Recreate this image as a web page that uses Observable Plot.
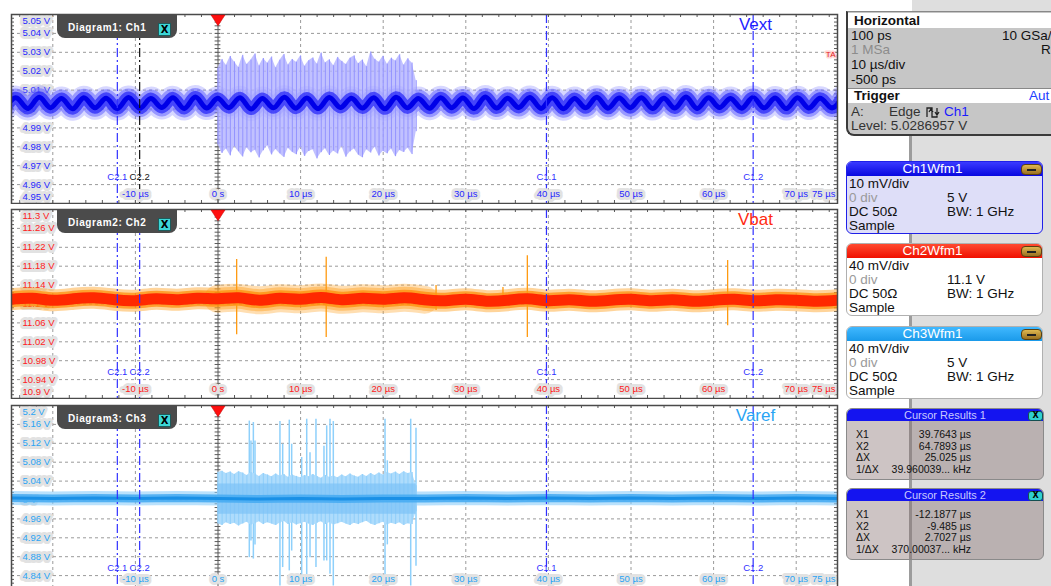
<!DOCTYPE html>
<html><head><meta charset="utf-8">
<script src="https://cdn.jsdelivr.net/npm/d3@7"></script>
<script src="https://cdn.jsdelivr.net/npm/@observablehq/plot@0.6"></script>
<style>
html,body{margin:0;padding:0}
body{width:1051px;height:586px;overflow:hidden;position:relative;background:#fff;font-family:"Liberation Sans",Arial,sans-serif;}
.panel{position:absolute;left:0}
.tab{position:absolute;left:57px;width:120px;height:24px;background:#4b4b4b;border-radius:0 0 8px 8px;color:#fff;font:bold 10px "Liberation Sans";letter-spacing:0.6px;z-index:5}
.tab span{position:absolute;left:11px;top:8px}
.xbtn{position:absolute;left:101px;top:9px;width:11px;height:11px;background:#3cd6d6;border:1px solid #1c5c5c;color:#000;font:bold 10px "DejaVu Sans";line-height:11px;text-align:center;letter-spacing:0}
.abs{position:absolute;white-space:nowrap}
.hbox{position:absolute;left:846px;top:11px;width:215px;height:122px;background:#c6c6c6;border-left:2px solid #3a3a3a;border-bottom:2px solid #3a3a3a;border-top:1px solid #888;border-bottom-left-radius:8px;font-size:13.5px;color:#111;z-index:3}
.wbox{position:absolute;left:846px;width:195px;height:71px;border-radius:6px;font-size:13.5px;color:#111;overflow:hidden;z-index:3}
.whdr{position:absolute;left:0;top:0;width:195px;height:14px;line-height:14px;text-align:center;color:#fff;font-size:13.5px}
.minus{position:absolute;left:174px;top:2px;width:19px;height:9px;border-radius:4px;background:linear-gradient(#e0b850,#9a7020);border:1px solid #5a4010}
.minus:after{content:"";position:absolute;left:5px;top:4px;width:9px;height:1.5px;background:#222}
.cbox{position:absolute;left:846px;width:196px;height:70px;border-radius:6px;border:1px solid #8a8a8a;background:rgba(135,115,115,0.42);font-size:10.5px;color:#111;overflow:hidden;z-index:3}
.chdr{position:absolute;left:0;top:0;width:100%;height:12px;line-height:12px;background:#1414f0;color:#c8c8ff;text-align:center;font-size:11px;border-radius:5px 5px 0 0}
.cx{position:absolute;left:181px;top:2px;width:13px;height:8px;border-radius:3px;background:#30d0d0;border:1px solid #145050;font:bold 8px "DejaVu Sans";line-height:8px;text-align:center;color:#000}
</style></head><body>
<div class="abs" style="left:912px;top:0;width:139px;height:586px;background:#dedede"></div>
<div class="abs" style="left:909px;top:134px;width:3px;height:452px;background:#9c9c9c;z-index:2"></div>

<div id="p1" class="panel" style="top:12.5px"></div>
<div id="p2" class="panel" style="top:208px"></div>
<div id="p3" class="panel" style="top:404px"></div>

<div class="tab" style="top:14px"><span>Diagram1: Ch1</span><div class="xbtn">X</div></div>
<div class="tab" style="top:209px"><span>Diagram2: Ch2</span><div class="xbtn">X</div></div>
<div class="tab" style="top:405px"><span>Diagram3: Ch3</span><div class="xbtn">X</div></div>

<div class="hbox">
  <div class="abs" style="left:0;top:1px;width:215px;height:15px;background:#fff"></div>
  <div class="abs" style="left:6px;top:1px;line-height:15px;font-weight:bold">Horizontal</div>
  <div class="abs" style="left:3px;top:17px;line-height:14px">100 ps</div>
  <div class="abs" style="left:154px;top:17px;line-height:14px">10 GSa/</div>
  <div class="abs" style="left:3px;top:31px;line-height:14px;color:#8c8c8c">1 MSa</div>
  <div class="abs" style="left:193px;top:31px;line-height:14px">R</div>
  <div class="abs" style="left:3px;top:46px;line-height:14px">10 µs/div</div>
  <div class="abs" style="left:3px;top:61px;line-height:14px">-500 ps</div>
  <div class="abs" style="left:0;top:76px;width:215px;height:1px;background:#888"></div>
  <div class="abs" style="left:0;top:77px;width:215px;height:14px;background:#fff"></div>
  <div class="abs" style="left:6px;top:77px;line-height:14px;font-weight:bold">Trigger</div>
  <div class="abs" style="left:181px;top:77px;line-height:14px;color:#2040ff">Aut</div>
  <div class="abs" style="left:3px;top:93px;line-height:14px;color:#333">A:</div>
  <div class="abs" style="left:41px;top:93px;line-height:14px;color:#333">Edge</div>
  <svg class="abs" style="left:78px;top:94px" width="16" height="12"><path d="M1 11 V2 H6 V11 H11 V2 M3 6 L5 3 L7 6 M9 6 L11 9 L13 6" fill="none" stroke="#222" stroke-width="1.3"/></svg>
  <div class="abs" style="left:96px;top:93px;line-height:14px;color:#1a1aff">Ch1</div>
  <div class="abs" style="left:3px;top:107px;line-height:14px;color:#333">Level: 5.0286957 V</div>
</div>

<div class="wbox" style="top:161px;background:#dedef8;border:1.5px solid #2020e8">
  <div class="whdr" style="background:linear-gradient(#3a3aff,#0808e0)"><span style="position:relative;left:-12px">Ch1Wfm1</span></div>
  <div class="minus"></div>
  <div class="abs" style="left:2px;top:15px;line-height:14px">10 mV/div</div>
  <div class="abs" style="left:2px;top:29px;line-height:14px;color:#9a9a9a">0 div</div>
  <div class="abs" style="left:100px;top:29px;line-height:14px">5 V</div>
  <div class="abs" style="left:2px;top:43px;line-height:14px">DC 50Ω</div>
  <div class="abs" style="left:100px;top:43px;line-height:14px">BW: 1 GHz</div>
  <div class="abs" style="left:2px;top:57px;line-height:14px">Sample</div>
</div>
<div class="wbox" style="top:243px;background:#fff;border:1.5px solid #b0b0b0">
  <div class="whdr" style="background:linear-gradient(#ff4a30,#f01000)"><span style="position:relative;left:-12px">Ch2Wfm1</span></div>
  <div class="minus"></div>
  <div class="abs" style="left:2px;top:15px;line-height:14px">40 mV/div</div>
  <div class="abs" style="left:2px;top:29px;line-height:14px;color:#9a9a9a">0 div</div>
  <div class="abs" style="left:100px;top:29px;line-height:14px">11.1 V</div>
  <div class="abs" style="left:2px;top:43px;line-height:14px">DC 50Ω</div>
  <div class="abs" style="left:100px;top:43px;line-height:14px">BW: 1 GHz</div>
  <div class="abs" style="left:2px;top:57px;line-height:14px">Sample</div>
</div>
<div class="wbox" style="top:326px;background:#fff;border:1.5px solid #b0b0b0">
  <div class="whdr" style="background:linear-gradient(#40b8ff,#1a9aea)"><span style="position:relative;left:-12px">Ch3Wfm1</span></div>
  <div class="minus"></div>
  <div class="abs" style="left:2px;top:15px;line-height:14px">40 mV/div</div>
  <div class="abs" style="left:2px;top:29px;line-height:14px;color:#9a9a9a">0 div</div>
  <div class="abs" style="left:100px;top:29px;line-height:14px">5 V</div>
  <div class="abs" style="left:2px;top:43px;line-height:14px">DC 50Ω</div>
  <div class="abs" style="left:100px;top:43px;line-height:14px">BW: 1 GHz</div>
  <div class="abs" style="left:2px;top:57px;line-height:14px">Sample</div>
</div>

<div class="cbox" style="top:408px">
  <div class="chdr">Cursor Results 1</div><div class="cx">X</div>
  <div class="abs" style="left:9px;top:19px">X1</div><div class="abs" style="right:72px;top:19px">39.7643 µs</div>
  <div class="abs" style="left:9px;top:31px">X2</div><div class="abs" style="right:72px;top:31px">64.7893 µs</div>
  <div class="abs" style="left:9px;top:42px">ΔX</div><div class="abs" style="right:72px;top:42px">25.025 µs</div>
  <div class="abs" style="left:9px;top:54px">1/ΔX</div><div class="abs" style="right:72px;top:54px">39.960039... kHz</div>
</div>
<div class="cbox" style="top:488px">
  <div class="chdr">Cursor Results 2</div><div class="cx">X</div>
  <div class="abs" style="left:9px;top:19px">X1</div><div class="abs" style="right:72px;top:19px">-12.1877 µs</div>
  <div class="abs" style="left:9px;top:31px">X2</div><div class="abs" style="right:72px;top:31px">-9.485 µs</div>
  <div class="abs" style="left:9px;top:42px">ΔX</div><div class="abs" style="right:72px;top:42px">2.7027 µs</div>
  <div class="abs" style="left:9px;top:54px">1/ΔX</div><div class="abs" style="right:72px;top:54px">370.00037... kHz</div>
</div>

<script>
// ---------- shared time axis (10 µs/div) ----------
const xDomain = [-25, 75];
const gridTimes = [-20, -10, 10, 20, 30, 40, 50, 60, 70];
const timeLabelValues = [-10, 0, 10, 20, 30, 40, 50, 60, 70];
const timeLabels = ["-10 µs", "0 s", "10 µs", "20 µs", "30 µs", "40 µs", "50 µs", "60 µs", "70 µs"];
const endTime = 75;
const endTimeLabel = "75 µs";
const edgeTickTimes = [-24,-22,-20,-18,-16,-14,-12,-10,-8,-6,-4,-2,0,2,4,6,8,10,12,14,16,18,20,22,24,26,28,30,32,34,36,38,40,42,44,46,48,50,52,54,56,58,60,62,64,66,68,70,72,74];

// ---------- cursors ----------
const cursorNames = ["C2.1", "C2.2", "C1.1", "C1.2"];
const cursorTimes = [-12.1877, -9.485, 39.7643, 64.7893];
const triggerTime = 0;
const triggerLevel = 5.0286957;

// ---------- channel 1 (Vext) 10 mV/div ----------
const ch1Ticks = [5.05, 5.04, 5.03, 5.02, 5.01, 5.0, 4.99, 4.98, 4.97, 4.96, 4.95];
const ch1Labels = ["5.05 V", "5.04 V", "5.03 V", "5.02 V", "5.01 V", "5 V", "4.99 V", "4.98 V", "4.97 V", "4.96 V", "4.95 V"];
const ch1FineStep = 0.002;
const ch1RippleStart = -25.69, ch1RippleStep = 1.35; // half ripple period (2.7 µs)
const ch1Ripple = [
  5.0005,5.0058,5.0003,5.0062,5.0007,5.0056,5.0001,5.0060,5.0006,5.0057,
  5.0002,5.0061,5.0004,5.0055,5.0008,5.0059,5.0003,5.0063,5.0005,5.0057,
  5.0007,5.0060,5.0000,5.0056,5.0006,5.0062,5.0004,5.0058,5.0002,5.0061,
  5.0008,5.0057,5.0005,5.0059,5.0001,5.0062,5.0006,5.0056,5.0004,5.0060,
  5.0007,5.0058,5.0002,5.0063,5.0005,5.0057,5.0008,5.0061,5.0003,5.0059,
  5.0001,5.0056,5.0006,5.0062,5.0004,5.0058,5.0007,5.0060,5.0002,5.0057,
  5.0005,5.0063,5.0003,5.0059,5.0008,5.0056,5.0004,5.0061,5.0006,5.0058,
  5.0002,5.0060,5.0005,5.0057,5.0007,5.0062];
const burstStart = 0, burstStep = 0.5;
const ch1BurstHi = [5.0215,5.0262,5.0231,5.0278,5.0249,5.0220,5.0284,5.0236,5.0259,5.0291,5.0228,5.0267,5.0242,5.0275,5.0218,5.0258,5.0288,5.0233,5.0262,5.0247,5.0281,5.0226,5.0255,5.0270,5.0238,5.0296,5.0244,5.0260,5.0229,5.0273,5.0252,5.0236,5.0268,5.0281,5.0240,5.0259,5.0224,5.0302,5.0263,5.0248,5.0279,5.0237,5.0269,5.0254,5.0287,5.0232,5.0266,5.0243,5.0150];
const ch1BurstLo = [4.9812,4.9765,4.9788,4.9752,4.9801,4.9774,4.9746,4.9795,4.9768,4.9782,4.9741,4.9779,4.9806,4.9757,4.9786,4.9763,4.9744,4.9792,4.9771,4.9758,4.9798,4.9749,4.9775,4.9785,4.9736,4.9769,4.9790,4.9754,4.9778,4.9762,4.9801,4.9745,4.9773,4.9788,4.9756,4.9742,4.9784,4.9767,4.9797,4.9751,4.9776,4.9763,4.9789,4.9748,4.9781,4.9770,4.9794,4.9759,4.9880];

// ---------- channel 2 (Vbat) 40 mV/div ----------
const ch2Ticks = [11.3, 11.26, 11.22, 11.18, 11.14, 11.1, 11.06, 11.02, 10.98, 10.94, 10.9];
const ch2Labels = ["11.3 V", "11.26 V", "11.22 V", "11.18 V", "11.14 V", "11.1 V", "11.06 V", "11.02 V", "10.98 V", "10.94 V", "10.9 V"];
const ch2FineStep = 0.008;
const ch2Start = -25, ch2Step = 2.5;
const ch2Center = [
  11.110,11.112,11.108,11.111,11.113,11.109,11.107,11.111,11.109,11.112,
  11.111,11.113,11.108,11.112,11.110,11.114,11.109,11.112,11.110,11.113,
  11.109,11.107,11.110,11.106,11.108,11.111,11.107,11.109,11.106,11.108,
  11.110,11.107,11.109,11.106,11.108,11.110,11.107,11.109,11.108,11.106,
  11.108];
const ch2SpikeTimes = [2.26, 13.1, 26.4, 34.5, 37.45, 61.7];
const ch2SpikeTops = [11.194, 11.199, 11.139, 11.135, 11.202, 11.192];
const ch2SpikeBottoms = [11.035, 11.029, 11.086, 11.098, 11.029, 11.054];

// ---------- channel 3 (Varef) 40 mV/div ----------
const ch3Ticks = [5.2, 5.16, 5.12, 5.08, 5.04, 5.0, 4.96, 4.92, 4.88, 4.84, 4.8];
const ch3Labels = ["5.2 V", "5.16 V", "5.12 V", "5.08 V", "5.04 V", "5 V", "4.96 V", "4.92 V", "4.88 V", "4.84 V", "4.8 V"];
const ch3FineStep = 0.008;
const ch3Start = -25, ch3Step = 5;
const ch3Center = [5.004,5.003,5.004,5.003,5.004,5.003,5.002,5.003,5.002,5.003,5.003,5.004,5.003,5.004,5.003,5.004,5.003,5.004,5.003,5.004,5.003];
const ch3BurstHi = [5.058,5.061,5.056,5.059,5.054,5.060,5.057,5.052,5.058,5.055,5.050,5.056,5.053,5.049,5.055,5.051,5.054,5.048,5.053,5.050,5.047,5.052,5.049,5.054,5.050,5.046,5.052,5.048,5.051,5.047,5.053,5.049,5.055,5.051,5.048,5.054,5.050,5.056,5.052,5.057,5.053,5.058,5.055,5.059,5.054,5.060,5.056,5.058,5.030];
const ch3BurstLo = [4.950,4.946,4.952,4.948,4.951,4.945,4.949,4.953,4.947,4.950,4.954,4.948,4.952,4.949,4.946,4.951,4.955,4.948,4.952,4.947,4.950,4.953,4.949,4.946,4.951,4.954,4.948,4.952,4.947,4.950,4.953,4.949,4.946,4.951,4.948,4.952,4.955,4.949,4.946,4.950,4.953,4.947,4.951,4.948,4.952,4.946,4.950,4.948,4.975];
const ch3InnerHi = 5.034, ch3InnerLo = 4.970;
const ch3SpikeTimes = [3.79,3.99,4.28,4.48,7.5,7.83,8.63,8.92,10.13,10.74,11.14,11.86,12.83,13.16,13.56,13.96,20.22,20.5,23.33,23.97];
const ch3SpikeTops = [5.167,5.125,5.164,5.125,5.166,5.118,5.169,5.118,5.090,5.171,5.100,5.171,5.114,5.157,5.171,5.166,5.171,5.083,5.171,5.152];
const ch3SpikeBottoms = [4.878,4.913,4.875,4.905,4.818,4.857,4.850,4.892,4.822,4.829,4.878,4.857,4.871,4.871,4.843,4.818,4.818,4.905,4.818,4.860];

// ---------- helpers ----------
const series = (start, step, values) => values.map((v, i) => ({t: start + i * step, v}));
const burst = (hi, lo) => hi.map((h, i) => ({t: burstStart + i * burstStep, hi: h, lo: lo[i]}));
const FONT = "Liberation Sans, Arial, sans-serif";
const PH = 189; // plot frame height in px
const PW = 826;
// inverted triangle symbol for the trigger-position marker
const downTriangle = {
  draw(context, size) {
    const r = Math.sqrt(size / Math.PI);
    context.moveTo(-1.4 * r, -r);
    context.lineTo(1.4 * r, -r);
    context.lineTo(0, 1.15 * r);
    context.closePath();
  }
};

function panel({ticks, labels, fineStep, color, name, nameColor, cursorColors, waves, bottomLabelDy = -7, showBottomYLabel = true}) {
  const yDomain = [ticks[ticks.length - 1], ticks[0]];
  const labelRows = ticks.map((y, i) => ({y, label: labels[i]}));
  const inner = labelRows.slice(1, -1);
  const fine = d3.range(Math.round((yDomain[1] - yDomain[0]) / fineStep) + 1).map(i => yDomain[0] + i * fineStep);
  const cursors = cursorNames.map((n, i) => ({n, t: cursorTimes[i], c: cursorColors[i]}));
  const tl = timeLabelValues.map((t, i) => ({t, label: timeLabels[i]}));
  const labelStyle = {fill: color, stroke: "#e2e2e2", strokeWidth: 6, paintOrder: "stroke", strokeLinejoin: "round", fontSize: 9.5};
  return Plot.plot({
    width: 840, height: PH + 2, marginLeft: 11, marginRight: 3, marginTop: 1, marginBottom: 1,
    x: {domain: xDomain, axis: null},
    y: {domain: yDomain, axis: null},
    style: {fontFamily: FONT, background: "transparent", overflow: "hidden"},
    marks: [
      Plot.ruleY(inner, {y: "y", stroke: "#9a9a9a", strokeDasharray: "3,3"}),
      Plot.ruleX(gridTimes, {x: d => d, stroke: "#9a9a9a", strokeDasharray: "3,3"}),
      Plot.ruleX([triggerTime], {x: d => d, stroke: "#5a5a5a"}),
      Plot.ruleY(fine, {y: d => d, x1: () => triggerTime - 0.35, x2: () => triggerTime + 0.35, stroke: "#5a5a5a"}),
      Plot.ruleX(edgeTickTimes, {x: d => d, insetBottom: PH - 3, stroke: "#5a5a5a"}),
      Plot.ruleX(edgeTickTimes, {x: d => d, insetTop: PH - 3, stroke: "#5a5a5a"}),
      Plot.ruleY(fine, {y: d => d, insetRight: PW - 3, stroke: "#5a5a5a"}),
      Plot.ruleY(fine, {y: d => d, insetLeft: PW - 3, stroke: "#5a5a5a"}),
      // y labels
      Plot.text(inner, {y: "y", text: "label", frameAnchor: "left", textAnchor: "start", dx: 11, ...labelStyle}),
      Plot.text([labelRows[0]], {y: "y", text: "label", frameAnchor: "left", textAnchor: "start", dx: 11, dy: 6.6, ...labelStyle}),
      showBottomYLabel ? Plot.text([labelRows[labelRows.length - 1]], {y: "y", text: "label", frameAnchor: "left", textAnchor: "start", dx: 11, dy: -7, ...labelStyle}) : null,
      ...waves,
      // cursors
      Plot.ruleX(cursors, {x: "t", stroke: "c", strokeDasharray: "9,3,2,3", strokeWidth: 1.2}),
      Plot.text(cursors, {x: "t", text: "n", fill: "c", frameAnchor: "bottom", dy: -24, fontSize: 9.5}),
      // time labels
      Plot.text(tl, {x: "t", text: "label", frameAnchor: "bottom", dy: bottomLabelDy, ...labelStyle}),
      Plot.text([endTime], {x: d => d, text: () => endTimeLabel, frameAnchor: "bottom", textAnchor: "end", dx: -2, dy: bottomLabelDy, ...labelStyle}),
      Plot.frame({stroke: "#4a4a4a", strokeWidth: 1.5}),
      // trigger position marker
      Plot.dot([triggerTime], {x: d => d, frameAnchor: "top", symbol: downTriangle, r: 5, dy: 5.5, fill: "#ff1010", stroke: "#c00000", strokeWidth: 0.5}),
      // channel name
      Plot.text([name], {text: d => d, frameAnchor: "top-right", textAnchor: "middle", lineAnchor: "top", dx: -82, dy: 3, fill: nameColor, fontSize: 17})
    ]
  });
}

// ---------- channel 1 marks ----------
const c1 = series(ch1RippleStart, ch1RippleStep, ch1Ripple);
const b1 = burst(ch1BurstHi, ch1BurstLo);
const ch1Marks = [
  Plot.line(c1, {x: "t", y: "v", curve: "natural", stroke: "#7a7aff", strokeWidth: 24, strokeOpacity: 0.3, clip: true}),
  Plot.line(c1, {x: "t", y: "v", curve: "natural", stroke: "#5a5aff", strokeWidth: 18, strokeOpacity: 0.5, clip: true}),
  Plot.areaY(b1, {x: "t", y1: "lo", y2: "hi", fill: "#b2b2ff", fillOpacity: 0.8, clip: true}),
  Plot.ruleX(b1, {x: "t", y1: "lo", y2: "hi", stroke: "#9494ff", strokeWidth: 1, clip: true}),
  Plot.line(c1, {x: "t", y: "v", curve: "natural", stroke: "#2a2af8", strokeWidth: 12, strokeOpacity: 0.75, clip: true}),
  Plot.line(c1, {x: "t", y: "v", curve: "natural", stroke: "#0000e8", strokeWidth: 5, clip: true}),
  Plot.text([triggerLevel], {y: d => d, text: () => "TA", frameAnchor: "right", textAnchor: "end", dx: -2, fill: "#e02020", stroke: "#ffd6d6", strokeWidth: 3, paintOrder: "stroke", fontSize: 8})
];

// ---------- channel 2 marks ----------
const c2 = series(ch2Start, ch2Step, ch2Center);
const c2burst = c2.filter(d => d.t >= 0 && d.t <= 25);
const s2 = ch2SpikeTimes.map((t, i) => ({t, hi: ch2SpikeTops[i], lo: ch2SpikeBottoms[i]}));
const ch2Marks = [
  Plot.line(c2burst, {x: "t", y: "v", curve: "natural", stroke: "#ffa020", strokeWidth: 28, strokeOpacity: 0.35, clip: true}),
  Plot.line(c2, {x: "t", y: "v", curve: "natural", stroke: "#ffa020", strokeWidth: 22, strokeOpacity: 0.45, clip: true}),
  Plot.line(c2, {x: "t", y: "v", curve: "natural", stroke: "#ff8a00", strokeWidth: 16, strokeOpacity: 0.7, clip: true}),
  Plot.ruleX(s2, {x: "t", y1: "lo", y2: "hi", stroke: "#ff9a10", strokeWidth: 1.3}),
  Plot.line(c2, {x: "t", y: "v", curve: "natural", stroke: "#ff2800", strokeWidth: 11, clip: true})
];

// ---------- channel 3 marks ----------
const c3 = series(ch3Start, ch3Step, ch3Center);
const b3 = burst(ch3BurstHi, ch3BurstLo);
const s3 = ch3SpikeTimes.map((t, i) => ({t, hi: ch3SpikeTops[i], lo: ch3SpikeBottoms[i]}));
const ch3Marks = [
  Plot.line(c3, {x: "t", y: "v", stroke: "#8ccdfa", strokeWidth: 14, strokeOpacity: 0.6, clip: true}),
  Plot.ruleX(s3, {x: "t", y1: "lo", y2: "hi", stroke: "#8ed0fb", strokeWidth: 1.5, clip: true}),
  Plot.areaY(b3, {x: "t", y1: "lo", y2: "hi", fill: "#aedcfc", clip: true}),
  Plot.ruleX(b3, {x: "t", y1: "lo", y2: "hi", stroke: "#94d0fa", strokeWidth: 1.2, clip: true}),
  Plot.areaY(b3, {x: "t", y1: () => ch3InnerLo, y2: () => ch3InnerHi, fill: "#7cc2f6", fillOpacity: 0.7}),
  Plot.line(c3, {x: "t", y: "v", stroke: "#48acf2", strokeWidth: 8, strokeOpacity: 0.9, clip: true}),
  Plot.line(c3, {x: "t", y: "v", stroke: "#1a90e6", strokeWidth: 3, clip: true})
];

document.getElementById("p1").append(panel({ticks: ch1Ticks, labels: ch1Labels, fineStep: ch1FineStep, color: "#2828ff", name: "Vext", nameColor: "#1e1eff", cursorColors: ["#3030ff", "#111", "#3030ff", "#3030ff"], waves: ch1Marks}));
document.getElementById("p2").append(panel({ticks: ch2Ticks, labels: ch2Labels, fineStep: ch2FineStep, color: "#ff2020", name: "Vbat", nameColor: "#ff2a10", cursorColors: ["#3030ff", "#3030ff", "#3030ff", "#3030ff"], waves: ch2Marks}));
document.getElementById("p3").append(panel({ticks: ch3Ticks, labels: ch3Labels, fineStep: ch3FineStep, color: "#2aa4f4", name: "Varef", nameColor: "#2aa4f4", cursorColors: ["#3030ff", "#3030ff", "#3030ff", "#3030ff"], waves: ch3Marks, bottomLabelDy: -13, showBottomYLabel: false}));
</script>
</body></html>
